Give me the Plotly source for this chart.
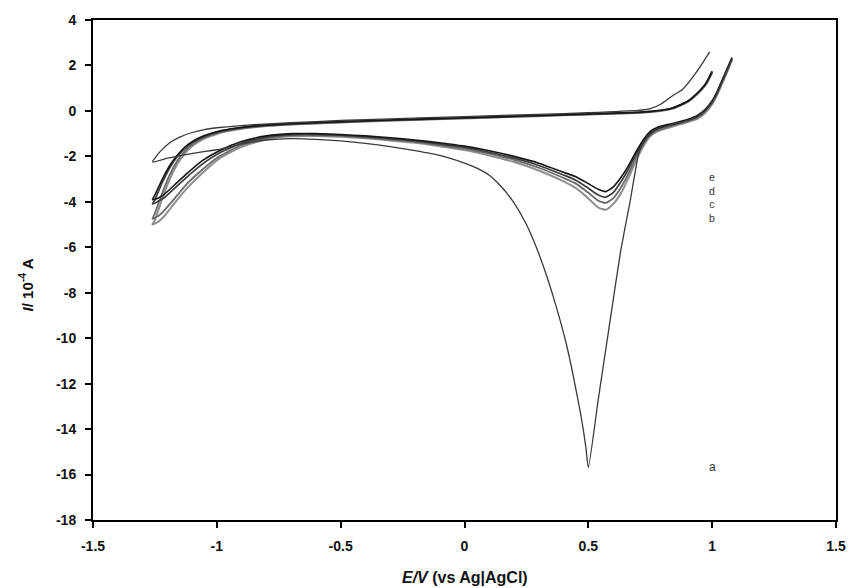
import plotly.graph_objects as go

# Potential grid (V vs Ag|AgCl) shared by voltammograms b-e
E_LOWER = [1.08, 1.06, 1.04, 1.02, 1.0, 0.97, 0.94, 0.9, 0.86, 0.82,
           0.78, 0.75, 0.72, 0.69, 0.66, 0.63, 0.6, 0.57, 0.54, 0.5,
           0.45, 0.4, 0.3, 0.2, 0.1, 0.0, -0.1, -0.2, -0.3, -0.4,
           -0.5, -0.6, -0.7, -0.8, -0.9, -0.99, -1.06, -1.12, -1.17, -1.21,
           -1.24, -1.26]
E_UPPER = [-1.25, -1.22, -1.19, -1.16, -1.13, -1.1, -1.05, -0.99, -0.92, -0.85,
           -0.7, -0.5, -0.3, 0.0, 0.3, 0.5, 0.7, 0.75, 0.8, 0.84,
           0.9, 0.95, 0.975, 1.0]

# Currents (10^-4 A), cathodic sweep then anodic sweep
I_LOWER_E = [2.35, 1.85, 1.35, 0.85, 0.45, 0.05, -0.2, -0.38, -0.5, -0.6,
             -0.72, -0.9, -1.3, -1.85, -2.45, -2.95, -3.35, -3.55, -3.45, -3.2,
             -2.9, -2.7, -2.3, -2.0, -1.75, -1.55, -1.4, -1.28, -1.18, -1.1,
             -1.04, -1.0, -1.0, -1.1, -1.35, -1.75, -2.2, -2.75, -3.25, -3.65,
             -3.85, -3.9]
I_UPPER_E = [-3.7, -3.0, -2.4, -1.95, -1.6, -1.35, -1.08, -0.88, -0.75, -0.66,
             -0.56, -0.47, -0.4, -0.3, -0.2, -0.13, -0.06, -0.02, 0.04, 0.13,
             0.42, 0.9, 1.22, 1.75]

I_LOWER_D = [2.3, 1.8, 1.3, 0.8, 0.4, 0.0, -0.25, -0.42, -0.55, -0.65,
             -0.78, -0.98, -1.4, -1.95, -2.6, -3.15, -3.6, -3.8, -3.7, -3.4,
             -3.05, -2.82, -2.4, -2.08, -1.82, -1.6, -1.45, -1.32, -1.22, -1.13,
             -1.07, -1.03, -1.04, -1.15, -1.42, -1.85, -2.35, -2.9, -3.4, -3.8,
             -4.0, -4.1]
I_UPPER_D = [-3.9, -3.15, -2.5, -2.02, -1.66, -1.4, -1.12, -0.91, -0.77, -0.68,
             -0.57, -0.48, -0.41, -0.31, -0.21, -0.14, -0.07, -0.03, 0.03, 0.12,
             0.41, 0.88, 1.2, 1.72]

I_LOWER_C = [2.3, 1.75, 1.25, 0.75, 0.35, -0.05, -0.3, -0.45, -0.58, -0.7,
             -0.85, -1.05, -1.5, -2.1, -2.8, -3.4, -3.85, -4.05, -3.95, -3.6,
             -3.2, -2.95, -2.5, -2.15, -1.88, -1.66, -1.5, -1.36, -1.26, -1.17,
             -1.1, -1.07, -1.08, -1.2, -1.5, -2.0, -2.6, -3.2, -3.85, -4.35,
             -4.65, -4.75]
I_UPPER_C = [-4.5, -3.6, -2.8, -2.2, -1.78, -1.48, -1.17, -0.95, -0.8, -0.7,
             -0.59, -0.5, -0.42, -0.32, -0.22, -0.15, -0.08, -0.04, 0.02, 0.11,
             0.4, 0.86, 1.18, 1.7]

I_LOWER_B = [2.25, 1.7, 1.2, 0.7, 0.3, -0.1, -0.35, -0.5, -0.62, -0.75,
             -0.9, -1.12, -1.6, -2.25, -3.0, -3.65, -4.1, -4.35, -4.25, -3.85,
             -3.4, -3.1, -2.62, -2.25, -1.96, -1.72, -1.55, -1.4, -1.3, -1.2,
             -1.14, -1.1, -1.12, -1.25, -1.58, -2.1, -2.75, -3.4, -4.05, -4.6,
             -4.9, -5.0]
I_UPPER_B = [-4.8, -3.85, -3.0, -2.35, -1.88, -1.55, -1.22, -0.98, -0.82, -0.72,
             -0.6, -0.51, -0.43, -0.33, -0.23, -0.16, -0.09, -0.05, 0.01, 0.1,
             0.38, 0.84, 1.16, 1.68]

# Voltammogram a (with the large reduction peak near 0.5 V)
E_A_LOWER = [1.08, 1.04, 1.0, 0.94, 0.88, 0.82, 0.77, 0.73, 0.705, 0.67,
             0.63, 0.58, 0.54, 0.5, 0.49, 0.47, 0.44, 0.41, 0.37, 0.33,
             0.29, 0.25, 0.2, 0.15, 0.1, 0.05, 0.0, -0.1, -0.2, -0.3,
             -0.4, -0.5, -0.6, -0.7, -0.8, -0.9, -0.99, -1.06, -1.12, -1.2,
             -1.26]
I_A_LOWER = [2.3, 1.3, 0.4, -0.25, -0.48, -0.65, -0.85, -1.25, -1.8, -3.9,
             -6.2, -9.8, -12.7, -15.7, -14.8, -13.4, -11.7, -10.2, -8.6, -7.2,
             -6.0, -5.0, -4.05, -3.35, -2.83, -2.52, -2.3, -1.96, -1.75, -1.57,
             -1.43, -1.32, -1.25, -1.22, -1.28, -1.45, -1.69, -1.8, -1.91, -2.08,
             -2.25]
E_A_UPPER = [-1.23, -1.19, -1.15, -1.1, -1.05, -0.99, -0.85, -0.7, -0.5, -0.3,
             0.0, 0.3, 0.5, 0.7, 0.75, 0.79, 0.84, 0.88, 0.935, 0.99]
I_A_UPPER = [-1.8, -1.4, -1.15, -0.95, -0.82, -0.73, -0.6, -0.52, -0.42, -0.35,
             -0.25, -0.15, -0.08, 0.02, 0.1, 0.28, 0.67, 0.94, 1.68, 2.6]

# Curve labels and their positions
LABEL_A = ("a", 1.0, -15.65)
LABEL_STACK = ("e<br>d<br>c<br>b", 1.0, -3.8)

X_TICKS = [-1.5, -1.0, -0.5, 0.0, 0.5, 1.0, 1.5]
X_TICKTEXT = ["-1.5", "-1", "-0.5", "0", "0.5", "1", "1.5"]
Y_TICKS = [4, 2, 0, -2, -4, -6, -8, -10, -12, -14, -16, -18]
Y_TICKTEXT = ["4", "2", "0", "-2", "-4", "-6", "-8", "-10", "-12", "-14", "-16", "-18"]

FONT = "Arial, Liberation Sans, sans-serif"

fig = go.Figure()

curves = [
    ("b", E_LOWER + E_UPPER, I_LOWER_B + I_UPPER_B, "#8f8f8f", 2.0),
    ("c", E_LOWER + E_UPPER, I_LOWER_C + I_UPPER_C, "#6a6a6a", 1.8),
    ("d", E_LOWER + E_UPPER, I_LOWER_D + I_UPPER_D, "#3c3c3c", 1.7),
    ("e", E_LOWER + E_UPPER, I_LOWER_E + I_UPPER_E, "#161616", 1.6),
    ("a", E_A_LOWER + E_A_UPPER, I_A_LOWER + I_A_UPPER, "#3a3a3a", 1.3),
]
for name, ex, iy, color, width in curves:
    fig.add_trace(go.Scatter(
        x=ex, y=iy, mode="lines", name=name,
        line=dict(color=color, width=width, shape="spline", smoothing=0.5),
        showlegend=False, hoverinfo="skip",
    ))

fig.add_annotation(x=LABEL_A[1], y=LABEL_A[2], text=LABEL_A[0], showarrow=False,
                   font=dict(family=FONT, size=12, color="#333333"),
                   xanchor="center", yanchor="middle")
fig.add_annotation(x=LABEL_STACK[1], y=LABEL_STACK[2], text=LABEL_STACK[0],
                   showarrow=False, align="center",
                   font=dict(family=FONT, size=10.5, color="#333333"),
                   xanchor="center", yanchor="middle")

axis_common = dict(
    showgrid=False, zeroline=False, showline=True, mirror=True,
    linecolor="#000000", linewidth=2, ticks="outside", ticklen=6,
    tickwidth=1.5, tickcolor="#000000",
    tickfont=dict(family=FONT, size=14, color="#111111", weight="bold"),
)

fig.update_xaxes(range=[-1.5, 1.5], tickvals=X_TICKS, ticktext=X_TICKTEXT,
                 ticklabelstandoff=6, **axis_common)
fig.update_yaxes(range=[-18, 4], tickvals=Y_TICKS, ticktext=Y_TICKTEXT,
                 ticklabelstandoff=6, **axis_common)

# Axis titles
fig.add_annotation(xref="paper", yref="paper", x=0.5, y=-0.115,
                   text="<b><i>E/V</i> (vs Ag|AgCl)</b>", showarrow=False,
                   font=dict(family=FONT, size=16, color="#111111"),
                   xanchor="center", yanchor="middle")
fig.add_annotation(xref="paper", yref="paper", x=-0.091, y=0.47,
                   text="<b><i>I</i>/ 10<sup>-4</sup> A</b>", showarrow=False,
                   textangle=-90,
                   font=dict(family=FONT, size=15, color="#111111"),
                   xanchor="center", yanchor="middle")

fig.update_layout(
    width=860, height=588,
    margin=dict(l=93, r=24, t=17, b=68),
    paper_bgcolor="#ffffff", plot_bgcolor="#ffffff",
    font=dict(family=FONT),
)

fig.write_html("out.html")
